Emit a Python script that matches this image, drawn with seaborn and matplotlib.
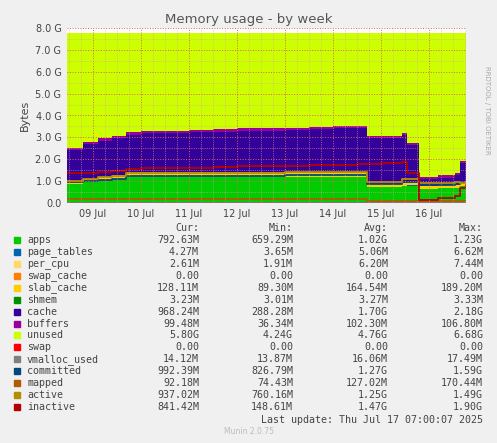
import numpy as np
import matplotlib
matplotlib.use("Agg")
import matplotlib.pyplot as plt
import seaborn as sns

sns.set_style("white")
plt.rcParams['font.family'] = ['DejaVu Sans']

# time in days since 08 Jul 00:00
t = [8.46, 8.8, 9.1, 9.4, 9.7, 10.0, 10.5, 11.0, 11.5, 12.0, 12.5, 13.0, 13.5, 14.0, 14.5, 14.72, 15.0, 15.45, 15.55, 15.8, 16.2, 16.55, 16.65, 16.78]
apps =        [0.85, 0.95, 1.05, 1.1, 1.18, 1.18, 1.18, 1.18, 1.18, 1.18, 1.18, 1.18, 1.18, 1.18, 1.18, 0.72, 0.72, 0.78, 0.8, 0.65, 0.67, 0.7, 0.78, 0.8]
page_tables = [0.005]*24
per_cpu =     [0.003]*24
swap_cache =  [0.0]*24
slab_cache =  [0.12, 0.13, 0.14, 0.15, 0.22, 0.22, 0.22, 0.22, 0.22, 0.22, 0.22, 0.24, 0.24, 0.24, 0.24, 0.12, 0.12, 0.13, 0.13, 0.13, 0.13, 0.13, 0.13, 0.13]
shmem =       [0.003]*24
cache =       [1.45, 1.6, 1.65, 1.7, 1.72, 1.78, 1.8, 1.82, 1.85, 1.9, 1.9, 1.92, 1.95, 1.98, 2.0, 2.1, 2.1, 2.2, 1.7, 0.3, 0.35, 0.42, 0.9, 0.9]
buffers =     [0.1]*24
total = 7.75
swap =        [0.0]*24
vmalloc_used = [0.015]*24
committed =   [0.95, 1.0, 1.05, 1.1, 1.25, 1.25, 1.25, 1.25, 1.25, 1.25, 1.25, 1.3, 1.3, 1.3, 1.3, 0.85, 0.85, 0.95, 0.95, 0.8, 0.8, 0.85, 0.95, 0.99]
mapped =      [0.18, 0.18, 0.18, 0.18, 0.18, 0.18, 0.18, 0.18, 0.18, 0.18, 0.18, 0.18, 0.18, 0.18, 0.18, 0.1, 0.1, 0.1, 0.1, 0.08, 0.08, 0.08, 0.09, 0.09]
active =      [1.0, 1.1, 1.2, 1.25, 1.35, 1.35, 1.35, 1.35, 1.35, 1.35, 1.35, 1.4, 1.4, 1.4, 1.4, 0.95, 0.95, 1.1, 1.1, 0.9, 0.9, 0.95, 0.92, 0.94]
inactive =    [1.35, 1.38, 1.42, 1.48, 1.55, 1.6, 1.62, 1.62, 1.65, 1.68, 1.7, 1.7, 1.72, 1.72, 1.78, 1.8, 1.85, 1.88, 1.35, 0.15, 0.22, 0.3, 0.7, 0.84]

stack_colors = ["#00CC00", "#0066B3", "#FFD966", "#FF8000", "#FFCC00", "#008F00", "#330099", "#990099", "#CCFF00"]
line_colors = ["#FF0000", "#808080", "#00487D", "#B35A00", "#B38F00", "#B30000"]

legend_rows = [
    ("apps", "792.63M", "659.29M", "1.02G", "1.23G"),
    ("page_tables", "4.27M", "3.65M", "5.06M", "6.62M"),
    ("per_cpu", "2.61M", "1.91M", "6.20M", "7.44M"),
    ("swap_cache", "0.00", "0.00", "0.00", "0.00"),
    ("slab_cache", "128.11M", "89.30M", "164.54M", "189.20M"),
    ("shmem", "3.23M", "3.01M", "3.27M", "3.33M"),
    ("cache", "968.24M", "288.28M", "1.70G", "2.18G"),
    ("buffers", "99.48M", "36.34M", "102.30M", "106.80M"),
    ("unused", "5.80G", "4.24G", "4.76G", "6.68G"),
    ("swap", "0.00", "0.00", "0.00", "0.00"),
    ("vmalloc_used", "14.12M", "13.87M", "16.06M", "17.49M"),
    ("committed", "992.39M", "826.79M", "1.27G", "1.59G"),
    ("mapped", "92.18M", "74.43M", "127.02M", "170.44M"),
    ("active", "937.02M", "760.16M", "1.25G", "1.49G"),
    ("inactive", "841.42M", "148.61M", "1.47G", "1.90G"),
]
day_ticks = [9, 10, 11, 12, 13, 14, 15, 16]
day_labels = ["09 Jul", "10 Jul", "11 Jul", "12 Jul", "13 Jul", "14 Jul", "15 Jul", "16 Jul"]
y_ticks = [0, 1, 2, 3, 4, 5, 6, 7, 8]
y_labels = ["0.0", "1.0 G", "2.0 G", "3.0 G", "4.0 G", "5.0 G", "6.0 G", "7.0 G", "8.0 G"]

fig = plt.figure(figsize=(4.97, 4.43), dpi=100, facecolor="#F0F0F0")
ax = fig.add_axes([67/497, 240/443, 399/497, 175/443])
ax.set_facecolor("white")

tt = np.array(t)
layers = [np.array(v) for v in [apps, page_tables, per_cpu, swap_cache, slab_cache, shmem, cache, buffers]]
s = np.sum(layers, axis=0)
layers.append(total - s)
base = np.zeros_like(tt)
for arr, c in zip(layers, stack_colors):
    ax.fill_between(tt, base, base + arr, step="post", color=c, lw=0)
    base = base + arr
for arr, c in zip([swap, vmalloc_used, committed, mapped, active, inactive], line_colors):
    ax.step(tt, arr, where="post", color=c, lw=1.3)

ax.set_xlim(8.46, 16.78)
ax.set_ylim(0, 8.0)
ax.set_xticks(day_ticks)
ax.set_xticklabels(day_labels, fontsize=7, color="#444444")
ax.set_yticks(y_ticks)
ax.set_yticklabels(y_labels, fontsize=7, color="#444444")
ax.set_xticks(np.arange(8.5, 16.8, 0.25), minor=True)
ax.set_yticks(np.arange(0, 8.01, 0.5), minor=True)
ax.grid(which="minor", color="#E0A0A0", ls=":", lw=0.5)
ax.grid(which="major", color="#E06060", ls=":", lw=0.7)
ax.set_axisbelow(False)
for sp in ax.spines.values():
    sp.set_visible(False)
ax.tick_params(length=0, pad=4)
ax.set_ylabel("Bytes", fontsize=8, color="#444444")
fig.text(0.5, 1 - 19/443, "Memory usage - by week", ha="center", va="center", fontsize=9.5, color="#555555")
fig.text(487/497, 0.75, "RRDTOOL / TOBI OETIKER", rotation=270, fontsize=5, color="#AAAAAA", ha="center", va="center")

fs = 7.2
mono = "DejaVu Sans Mono"
tc = "#444444"
cols = [199, 293, 388, 483]
y0 = 1 - 228/443
for lab, xr in zip(["Cur:", "Min:", "Avg:", "Max:"], cols):
    fig.text(xr/497, y0, lab, ha="right", va="center", fontsize=fs, family=mono, color=tc)
colors_all = stack_colors + line_colors
for i, (row, c) in enumerate(zip(legend_rows, colors_all)):
    yy = 1 - (240 + i * 11.93) / 443
    fig.patches.append(plt.Rectangle((14/497, yy - 3/443), 6/497, 6/443, transform=fig.transFigure, color=c))
    fig.text(27/497, yy, row[0], va="center", fontsize=fs, family=mono, color=tc)
    for val, xr in zip(row[1:], cols):
        fig.text(xr/497, yy, val, va="center", ha="right", fontsize=fs, family=mono, color=tc)
fig.text(483/497, 1 - 420/443, "Last update: Thu Jul 17 07:00:07 2025", ha="right", va="center", fontsize=fs, family=mono, color=tc)
fig.text(0.5, 1 - 432/443, "Munin 2.0.75", ha="center", va="center", fontsize=5.5, color="#BBBBBB")
fig.savefig("out.png", dpi=100, facecolor=fig.get_facecolor())
